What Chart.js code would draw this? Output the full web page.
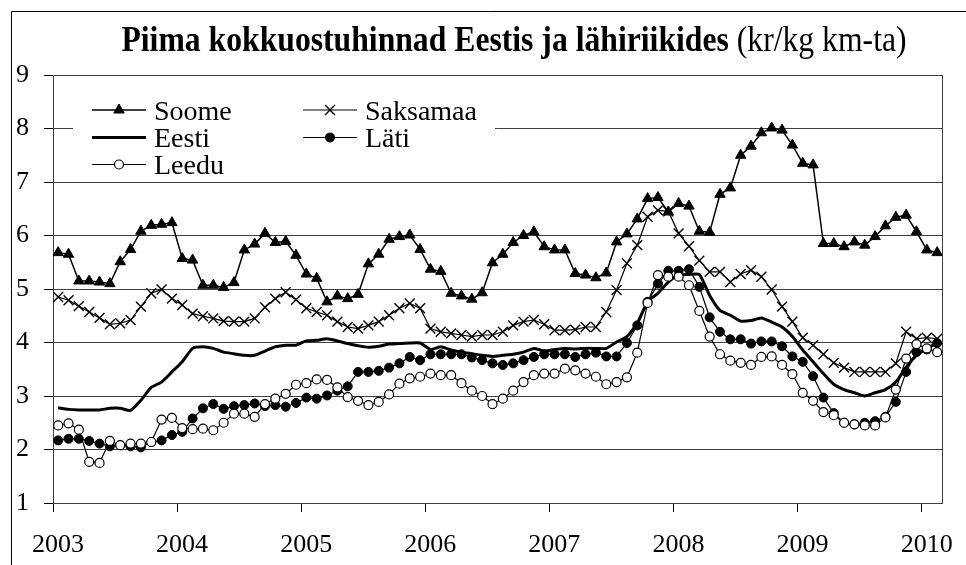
<!DOCTYPE html>
<html>
<head>
<meta charset="utf-8">
<script src="https://cdn.jsdelivr.net/npm/chart.js"></script>
<style>
    html, body { margin: 0; padding: 0; background: #fff; }
    #wrap { width: 966px; height: 565px; }
</style>
</head>
<body>
<div id="wrap"><canvas id="milkChart" width="966" height="565"></canvas></div>
<script>
// Monthly values, Jan 2003 .. Feb 2010 (kr/kg)
const years = ['2003', '2004', '2005', '2006', '2007', '2008', '2009', '2010'];

const soome = [
    5.68, 5.65, 5.15, 5.15, 5.13, 5.10, 5.51, 5.74, 6.08, 6.19, 6.21, 6.24,
    5.57, 5.54, 5.07, 5.07, 5.03, 5.12, 5.73, 5.84, 6.04, 5.87, 5.89, 5.63,
    5.28, 5.20, 4.76, 4.87, 4.82, 4.90, 5.47, 5.65, 5.93, 5.98, 6.01, 5.74,
    5.37, 5.33, 4.92, 4.87, 4.81, 4.93, 5.49, 5.65, 5.87, 6.00, 6.07, 5.79,
    5.73, 5.73, 5.29, 5.26, 5.21, 5.30, 5.88, 6.03, 6.31, 6.69, 6.71, 6.44,
    6.60, 6.55, 6.08, 6.06, 6.77, 6.89, 7.50, 7.67, 7.92, 8.01, 7.97, 7.69,
    7.35, 7.32, 5.85, 5.85, 5.79, 5.88, 5.82, 5.98, 6.18, 6.34, 6.38, 6.07,
    5.73, 5.68
];
const saksamaa = [
    4.85, 4.79, 4.68, 4.57, 4.46, 4.34, 4.36, 4.42, 4.67, 4.92, 4.99, 4.82,
    4.70, 4.54, 4.49, 4.45, 4.40, 4.39, 4.39, 4.45, 4.66, 4.82, 4.94, 4.80,
    4.64, 4.57, 4.51, 4.39, 4.29, 4.26, 4.32, 4.39, 4.51, 4.64, 4.73, 4.64,
    4.26, 4.20, 4.17, 4.14, 4.11, 4.14, 4.14, 4.20, 4.32, 4.39, 4.42, 4.34,
    4.23, 4.23, 4.24, 4.29, 4.29, 4.57, 4.98, 5.48, 5.82, 6.35, 6.47, 6.45,
    6.04, 5.80, 5.53, 5.32, 5.32, 5.13, 5.28, 5.35, 5.23, 4.99, 4.67, 4.39,
    4.09, 3.95, 3.78, 3.62, 3.53, 3.45, 3.45, 3.45, 3.45, 3.61, 4.20, 4.07,
    4.09, 4.07
];
const eesti = [
    2.78, 2.75, 2.74, 2.74, 2.74, 2.77, 2.77, 2.73, 2.92, 3.16, 3.26, 3.45,
    3.64, 3.89, 3.92, 3.89, 3.82, 3.79, 3.76, 3.76, 3.84, 3.92, 3.95, 3.95,
    4.03, 4.04, 4.07, 4.03, 3.98, 3.94, 3.91, 3.93, 3.97, 3.98, 3.99, 3.99,
    3.87, 3.92, 3.86, 3.82, 3.79, 3.76, 3.74, 3.76, 3.78, 3.82, 3.89, 3.84,
    3.87, 3.89, 3.88, 3.89, 3.89, 3.89, 4.01, 4.11, 4.36, 4.76, 4.92, 5.13,
    5.26, 5.27, 5.27, 4.88, 4.60, 4.51, 4.40, 4.41, 4.46, 4.38, 4.29, 4.11,
    3.86, 3.64, 3.42, 3.22, 3.12, 3.06, 3.00, 3.06, 3.12, 3.26, 3.54, 3.76,
    3.89, 3.99
];
const lati = [
    2.17, 2.20, 2.20, 2.16, 2.11, 2.06, 2.08, 2.06, 2.04, 2.14, 2.17, 2.27,
    2.33, 2.58, 2.77, 2.85, 2.76, 2.81, 2.83, 2.86, 2.81, 2.83, 2.80, 2.87,
    2.97, 2.95, 3.01, 3.10, 3.18, 3.45, 3.45, 3.47, 3.53, 3.61, 3.73, 3.67,
    3.78, 3.78, 3.78, 3.78, 3.72, 3.67, 3.61, 3.58, 3.61, 3.67, 3.73, 3.78,
    3.78, 3.78, 3.73, 3.78, 3.81, 3.74, 3.74, 3.99, 4.32, 4.76, 5.10, 5.34,
    5.34, 5.37, 5.04, 4.47, 4.20, 4.06, 4.06, 3.98, 4.02, 4.02, 3.93, 3.74,
    3.64, 3.37, 2.97, 2.68, 2.50, 2.47, 2.50, 2.53, 2.61, 2.89, 3.45, 3.82,
    3.87, 3.99
];
const leedu = [
    2.45, 2.49, 2.37, 1.77, 1.75, 2.16, 2.08, 2.11, 2.11, 2.14, 2.56, 2.59,
    2.40, 2.38, 2.39, 2.36, 2.50, 2.67, 2.67, 2.61, 2.85, 2.95, 3.04, 3.21,
    3.24, 3.31, 3.30, 3.16, 2.98, 2.91, 2.83, 2.89, 3.03, 3.23, 3.33, 3.36,
    3.42, 3.39, 3.39, 3.24, 3.10, 3.00, 2.85, 2.95, 3.10, 3.26, 3.39, 3.42,
    3.42, 3.51, 3.48, 3.42, 3.36, 3.22, 3.26, 3.35, 3.81, 4.74, 5.26, 5.23,
    5.23, 5.07, 4.59, 4.11, 3.78, 3.66, 3.62, 3.58, 3.73, 3.74, 3.58, 3.41,
    3.06, 2.91, 2.70, 2.64, 2.50, 2.47, 2.45, 2.45, 2.60, 3.12, 3.70, 3.97,
    3.89, 3.82
];

const FONT = "'Liberation Serif', 'Times New Roman', serif";
const monthCount = soome.length;

// each month sits in the middle of its category slot
const toPoints = arr => arr.map((v, i) => ({ x: i + 0.5, y: v }));

function drawMarker(ctx, style, x, y, r, fill, lw) {
    ctx.save();
    ctx.lineWidth = lw || 1;
    ctx.strokeStyle = '#000';
    ctx.fillStyle = fill;
    ctx.beginPath();
    if (style === 'triangle') {
        for (let k = 0; k < 3; k++) {
            const a = k * 2 * Math.PI / 3;
            const px = x + Math.sin(a) * r, py = y - Math.cos(a) * r;
            k === 0 ? ctx.moveTo(px, py) : ctx.lineTo(px, py);
        }
        ctx.closePath();
        ctx.fill();
        ctx.stroke();
    } else if (style === 'crossRot') {
        const d = r * Math.SQRT1_2;
        ctx.moveTo(x - d, y - d); ctx.lineTo(x + d, y + d);
        ctx.moveTo(x + d, y - d); ctx.lineTo(x - d, y + d);
        ctx.stroke();
    } else if (style === 'circle') {
        ctx.arc(x, y, r, 0, Math.PI * 2);
        ctx.fill();
        ctx.stroke();
    }
    ctx.restore();
}

// White page with the clipped outer frame
const framePlugin = {
    id: 'frame',
    beforeDraw(chart) {
        const ctx = chart.ctx;
        ctx.save();
        ctx.fillStyle = '#fff';
        ctx.fillRect(0, 0, chart.width, chart.height);
        ctx.strokeStyle = '#000';
        ctx.lineWidth = 1;
        ctx.beginPath();
        ctx.moveTo(11.5, chart.height);
        ctx.lineTo(11.5, 11.5);
        ctx.lineTo(chart.width, 11.5);
        ctx.stroke();
        ctx.restore();
    },
    beforeDatasetsDraw(chart) {
        const { ctx, chartArea: a } = chart;
        ctx.save();
        ctx.strokeStyle = '#404040';
        ctx.lineWidth = 1;
        ctx.strokeRect(Math.round(a.left) + 0.5, Math.round(a.top) + 0.5,
            Math.round(a.right - a.left), Math.round(a.bottom - a.top));
        ctx.restore();
    }
};

// Title with a bold part and a plain unit part (narrow, tall lettering)
const titlePlugin = {
    id: 'mixedTitle',
    afterDraw(chart) {
        const ctx = chart.ctx;
        const bold = 'Piima kokkuostuhinnad Eestis ja lähiriikides';
        const plain = ' (kr/kg km-ta)';
        const squeeze = 0.88;
        ctx.save();
        ctx.fillStyle = '#000';
        ctx.textBaseline = 'alphabetic';
        ctx.font = 'bold 36px ' + FONT;
        const wb = ctx.measureText(bold).width;
        ctx.font = '36px ' + FONT;
        const wp = ctx.measureText(plain).width;
        const cx = 514;
        ctx.translate(cx, 51);
        ctx.scale(squeeze, 1);
        const x0 = -(wb + wp) / 2;
        ctx.font = 'bold 36px ' + FONT;
        ctx.fillText(bold, x0, 0);
        ctx.font = '36px ' + FONT;
        ctx.fillText(plain, x0 + wb, 0);
        ctx.restore();
    }
};

// Two-column legend inside the plot, like the original
const legendPlugin = {
    id: 'boxLegend',
    afterDraw(chart) {
        const ctx = chart.ctx;
        ctx.save();
        ctx.fillStyle = '#fff';
        ctx.fillRect(73, 80, 422, 98);
        const cols = [92, 303];
        const rows = [110, 137.5, 164.5];
        chart.data.datasets.forEach((ds, i) => {
            const x = cols[i % 2];
            const y = rows[Math.floor(i / 2)];
            ctx.strokeStyle = '#000';
            ctx.lineWidth = ds.borderWidth;
            ctx.beginPath();
            ctx.moveTo(x, y);
            ctx.lineTo(x + 54, y);
            ctx.stroke();
            if (ds.pointRadius > 0) {
                drawMarker(ctx, ds.pointStyle, x + 27, y, ds.pointRadius,
                    ds.pointBackgroundColor, ds.pointBorderWidth);
            }
            ctx.fillStyle = '#000';
            ctx.font = '28px ' + FONT;
            ctx.textBaseline = 'alphabetic';
            ctx.fillText(ds.label, x + 62, y + 9.5);
        });
        ctx.restore();
    }
};

const ctx = document.getElementById('milkChart').getContext('2d');
new Chart(ctx, {
    type: 'line',
    data: {
        datasets: [
            {
                label: 'Soome',
                data: toPoints(soome),
                borderColor: '#000',
                borderWidth: 1.5,
                pointStyle: 'triangle',
                pointRadius: 6,
                pointBackgroundColor: '#000',
                pointBorderColor: '#000',
                pointBorderWidth: 1,
                order: 5
            },
            {
                label: 'Saksamaa',
                data: toPoints(saksamaa),
                borderColor: '#000',
                borderWidth: 1.2,
                pointStyle: 'crossRot',
                pointRadius: 7,
                pointBackgroundColor: '#000',
                pointBorderColor: '#000',
                pointBorderWidth: 1.4,
                order: 4
            },
            {
                label: 'Eesti',
                data: toPoints(eesti),
                borderColor: '#000',
                borderWidth: 3,
                pointRadius: 0,
                tension: 0.2,
                order: 3
            },
            {
                label: 'Läti',
                data: toPoints(lati),
                borderColor: '#000',
                borderWidth: 1.2,
                pointStyle: 'circle',
                pointRadius: 4.5,
                pointBackgroundColor: '#000',
                pointBorderColor: '#000',
                pointBorderWidth: 1,
                order: 2
            },
            {
                label: 'Leedu',
                data: toPoints(leedu),
                borderColor: '#000',
                borderWidth: 1.2,
                pointStyle: 'circle',
                pointRadius: 4.5,
                pointBackgroundColor: '#fff',
                pointBorderColor: '#000',
                pointBorderWidth: 1.2,
                order: 1
            }
        ]
    },
    options: {
        responsive: false,
        animation: false,
        devicePixelRatio: 1,
        layout: { padding: { top: 75, right: 15, left: 0, bottom: 0 } },
        plugins: {
            legend: { display: false },
            title: { display: false },
            tooltip: { enabled: false }
        },
        scales: {
            x: {
                type: 'linear',
                min: 0,
                max: monthCount,
                afterBuildTicks: scale => {
                    scale.ticks = years.map((y, k) => ({ value: k * 12 }));
                },
                afterFit: scale => { scale.height = 62; },
                grid: {
                    drawOnChartArea: false,
                    drawTicks: true,
                    tickLength: 9,
                    tickColor: '#000'
                },
                border: { display: true, color: '#000', width: 1 },
                ticks: {
                    autoSkip: false,
                    maxRotation: 0,
                    labelOffset: 5,
                    padding: 18,
                    color: '#000',
                    font: { family: FONT, size: 26 },
                    callback: value => years[Math.round(value / 12)]
                }
            },
            y: {
                min: 1,
                max: 9,
                afterFit: scale => { scale.width = 53; },
                grid: {
                    color: '#404040',
                    lineWidth: 1,
                    tickLength: 9,
                    tickColor: '#000'
                },
                border: { display: true, color: '#000', width: 1 },
                ticks: {
                    stepSize: 1,
                    padding: 15,
                    color: '#000',
                    font: { family: FONT, size: 26 },
                    callback: value => String(value)
                }
            }
        }
    },
    plugins: [framePlugin, titlePlugin, legendPlugin]
});
</script>
</body>
</html>
